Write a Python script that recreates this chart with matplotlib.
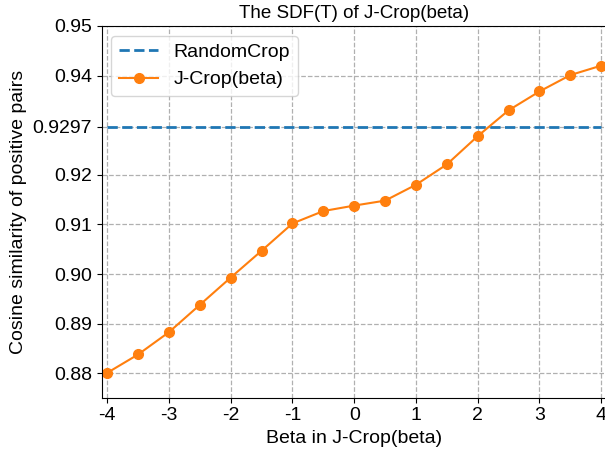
import numpy as np
import matplotlib
matplotlib.use("Agg")
import matplotlib.pyplot as plt

plt.rcParams['font.family'] = ['Liberation Sans', 'DejaVu Sans']
plt.rcParams['axes.unicode_minus'] = False

# values
beta = [-4, -3.5, -3, -2.5, -2, -1.5, -1, -0.5, 0, 0.5, 1, 1.5, 2, 2.5, 3, 3.5, 4]
sdf = [0.8801, 0.8838, 0.8883, 0.8938, 0.8993, 0.9047, 0.9102, 0.9127, 0.9138,
       0.9148, 0.9180, 0.9221, 0.9278, 0.9330, 0.9368, 0.9401, 0.9420]
random_crop = 0.9297
yticks = [0.88, 0.89, 0.90, 0.91, 0.92, 0.9297, 0.94, 0.95]
ytick_labels = ['0.88', '0.89', '0.90', '0.91', '0.92', '0.9297', '0.94', '0.95']
xticks = [-4, -3, -2, -1, 0, 1, 2, 3, 4]

fig = plt.figure(figsize=(6.05, 4.49), dpi=100)
ax = fig.add_axes([0.168, 0.1143, 0.835, 0.828])

ax.plot([beta[0], beta[-1]], [random_crop, random_crop], '--', color='#1f77b4',
        linewidth=2, label='RandomCrop')
ax.plot(beta, sdf, '-o', color='#ff7f0e', linewidth=1.5, markersize=7,
        label='J-Crop(beta)')

ax.set_xlim(-4.09, 4.09)
ax.set_ylim(0.8751, 0.95)
ax.set_xticks(xticks)
ax.set_xticklabels([str(t) for t in xticks])
ax.set_yticks(yticks)
ax.set_yticklabels(ytick_labels)
ax.tick_params(labelsize=14)
ax.grid(True, linestyle='--', color='#b0b0b0', linewidth=0.9)

ax.set_title('The SDF(T) of J-Crop(beta)', fontsize=13.5)
ax.set_xlabel('Beta in J-Crop(beta)', fontsize=14)
ax.set_ylabel('Cosine similarity of positive pairs', fontsize=14)
ax.legend(loc='upper left', fontsize=14)

fig.savefig('out.png', dpi=100)
